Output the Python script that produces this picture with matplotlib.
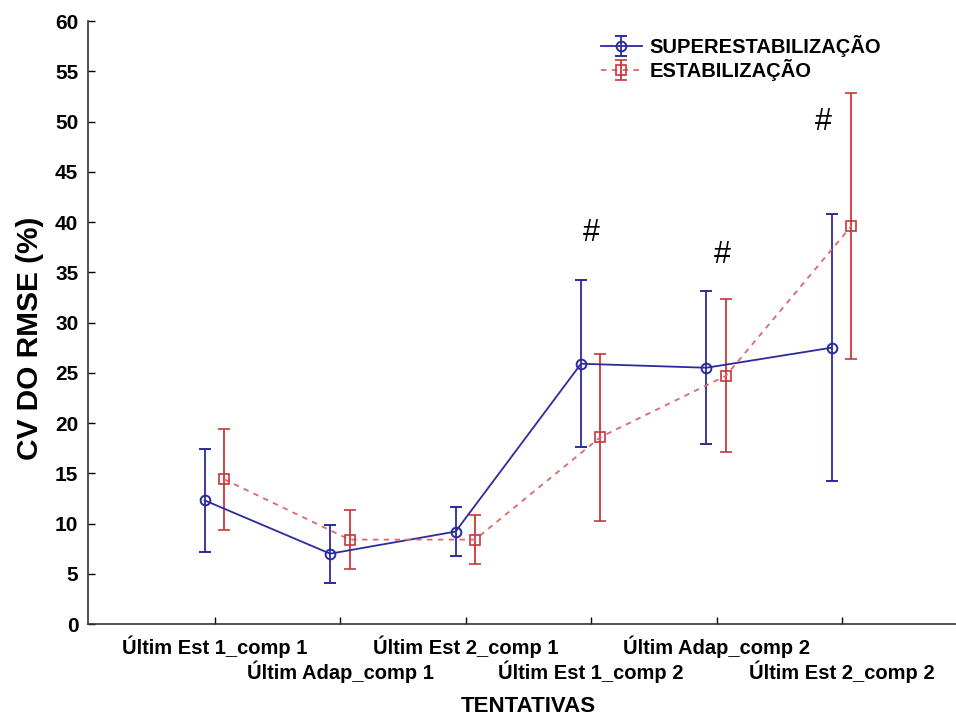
import numpy as np
import matplotlib
matplotlib.use("Agg")
import matplotlib.pyplot as plt

# data
categories = ["Últim Est 1_comp 1", "Últim Adap_comp 1", "Últim Est 2_comp 1",
              "Últim Est 1_comp 2", "Últim Adap_comp 2", "Últim Est 2_comp 2"]
super_mean = [12.3, 7.0, 9.2, 25.9, 25.5, 27.5]
super_err = [5.1, 2.9, 2.4, 8.3, 7.6, 13.3]
estab_mean = [14.4, 8.4, 8.4, 18.6, 24.7, 39.6]
estab_err = [5.0, 2.9, 2.4, 8.3, 7.6, 13.2]
# significance marks: (category position, height)
hash_x = [3.0, 4.05, 4.85]
hash_y = [38.9, 36.7, 50.0]

plt.rcParams['font.family'] = ['Liberation Sans', 'DejaVu Sans']

fig = plt.figure(figsize=(9.56, 7.2), dpi=100)
ax = fig.add_axes([0.0921, 0.1333, 0.908, 0.8375])

x = np.arange(len(categories))
blue = "#2b2b9e"
red = "#c8373a"

ax.errorbar(x - 0.08, super_mean, yerr=super_err, color=blue, lw=1.3,
            marker='o', mfc='none', mec=blue, ms=7, mew=1.4,
            ecolor=blue, elinewidth=1.3, capsize=4.5, capthick=1.3,
            label="SUPERESTABILIZAÇÃO")
ax.errorbar(x + 0.075, estab_mean, yerr=estab_err, color="#e0676a", lw=1.3,
            ls=(0, (3, 3)), marker='s', mfc='none', mec=red, ms=7, mew=1.2,
            ecolor=red, elinewidth=1.3, capsize=4.5, capthick=1.3,
            label="ESTABILIZAÇÃO")

for hx, hy in zip(hash_x, hash_y):
    ax.text(hx, hy, "#", fontsize=22, ha='center', va='center',
            family=['Liberation Sans'])

ax.set_xlim(-1.01, 5.91)
ax.set_ylim(0, 60)
ax.set_yticks(np.arange(0, 61, 5))
ax.set_xticks(x)
ax.set_xticklabels(["" if i % 2 else c for i, c in enumerate(categories)])
for i, c in enumerate(categories):
    if i % 2:
        ax.text(i, -0.061, c, transform=ax.get_xaxis_transform(),
                ha='center', va='top', fontsize=14.5, fontweight='bold')

ax.tick_params(axis='both', direction='in', length=5, width=1)
ax.tick_params(axis='x', pad=8, labelsize=14.5)
ax.tick_params(axis='y', pad=7, labelsize=15)
for lab in ax.get_xticklabels() + ax.get_yticklabels():
    lab.set_fontweight('bold')

for s in ['top', 'right']:
    ax.spines[s].set_visible(False)
for s in ['left', 'bottom']:
    ax.spines[s].set_color('#333333')
    ax.spines[s].set_linewidth(1.2)

fig.text(30 / 956, 1 - 338 / 720, "CV DO RMSE (%)", rotation=90, fontsize=21.5,
         fontweight='bold', ha='center', va='center')
fig.text(528 / 956, 1 - 706 / 720, "TENTATIVAS", fontsize=16,
         fontweight='bold', ha='center', va='center')

leg = ax.legend(loc='upper left', bbox_to_anchor=(0.582, 0.99), frameon=False,
                prop={'weight': 'bold', 'size': 14.5}, handlelength=2.0,
                handletextpad=0.4, borderaxespad=0, labelspacing=0.1)

fig.savefig("out.png", dpi=100)
